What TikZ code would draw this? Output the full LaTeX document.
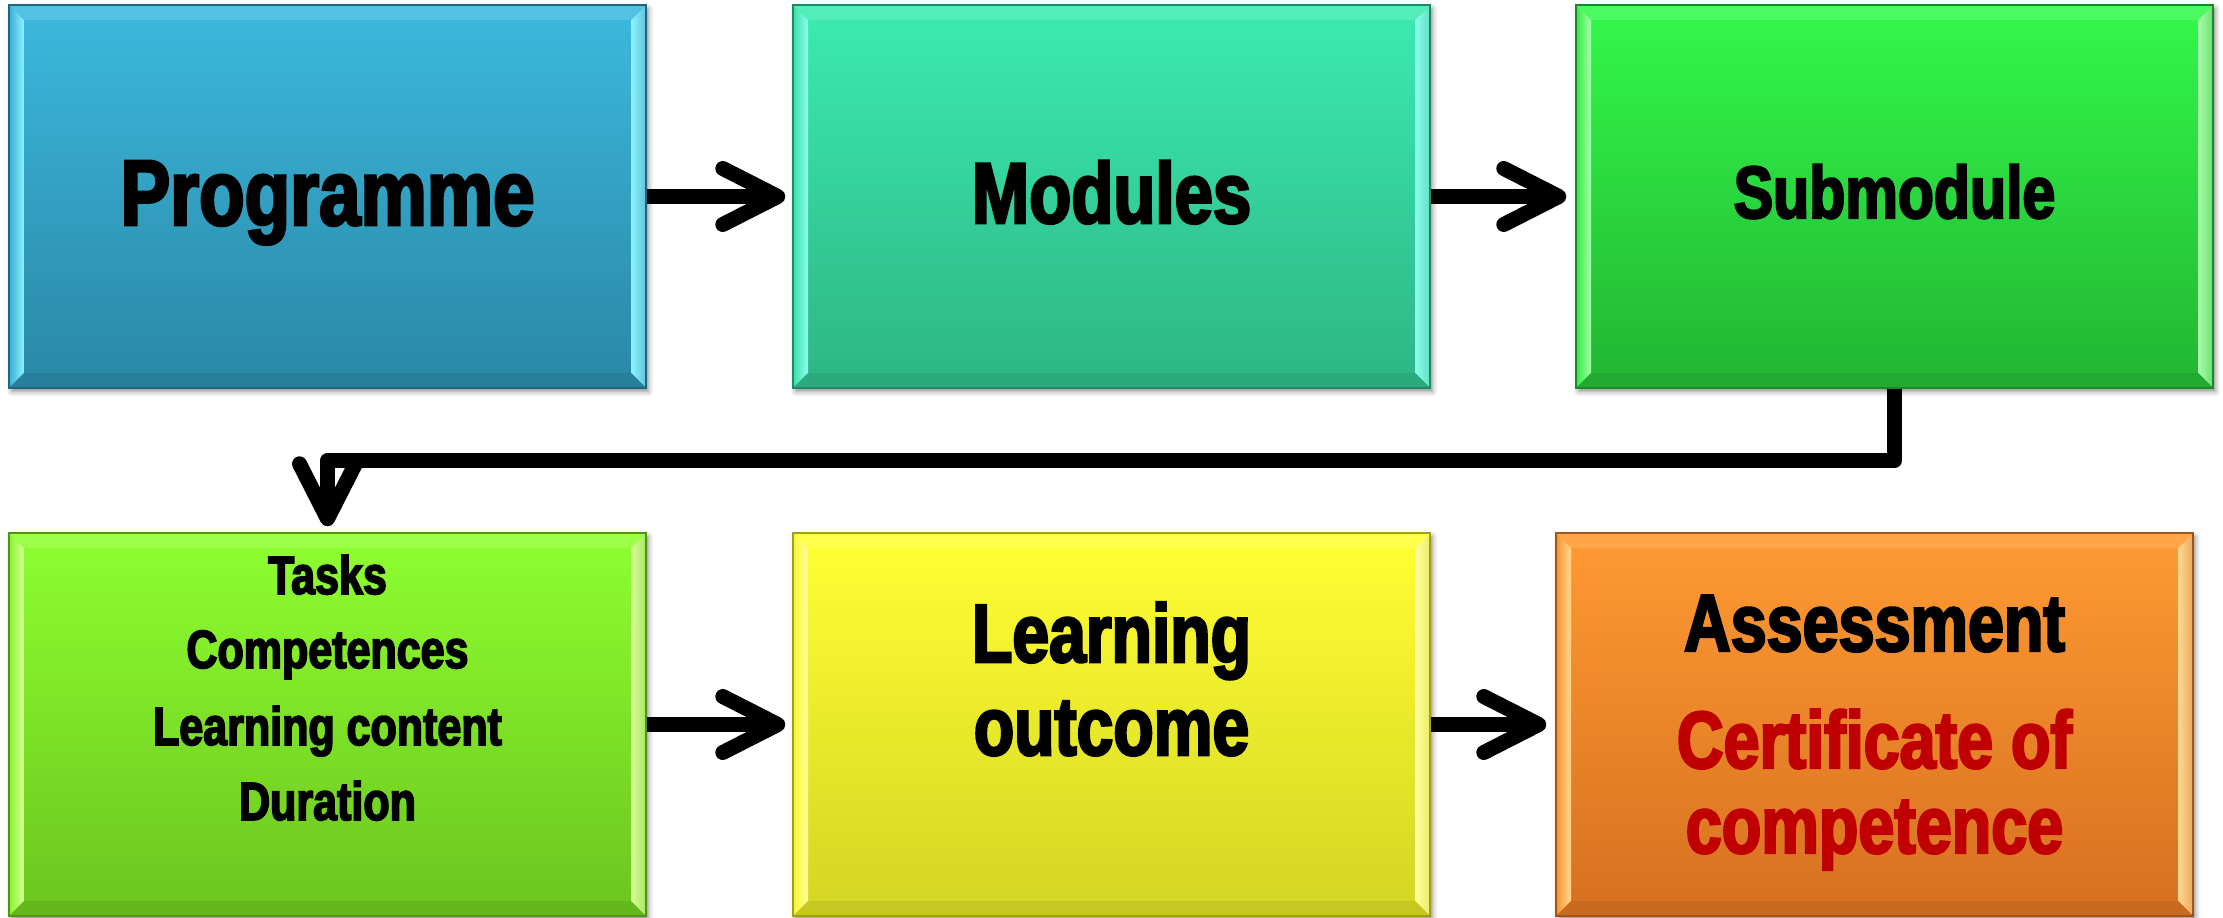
\documentclass[tikz,border=0pt]{standalone}
\usepackage{fontspec}
\newfontfamily\boxfont{Liberation Sans}[FakeStretch=0.8, BoldFeatures={FakeBold=3}]
\usetikzlibrary{arrows.meta, shadows.blur, calc}

% panel colours: top / bottom of the gradient, and the bevel highlight
\definecolor{progTop}{HTML}{3CB9DE}\definecolor{progBot}{HTML}{2A87A5}\definecolor{progHi}{HTML}{8CF4FF}
\definecolor{modTop}{HTML}{3CEBB0}\definecolor{modBot}{HTML}{2DB585}\definecolor{modHi}{HTML}{8CFFF0}
\definecolor{subTop}{HTML}{33F84A}\definecolor{subBot}{HTML}{22B532}\definecolor{subHi}{HTML}{A8FFA8}
\definecolor{taskTop}{HTML}{8EFF30}\definecolor{taskBot}{HTML}{6CC41E}\definecolor{taskHi}{HTML}{D8FF98}
\definecolor{loTop}{HTML}{FFFF33}\definecolor{loBot}{HTML}{D4D424}\definecolor{loHi}{HTML}{FFFFA0}
\definecolor{asTop}{HTML}{FF9A33}\definecolor{asBot}{HTML}{D67020}\definecolor{asHi}{HTML}{FFD890}
\definecolor{certRed}{HTML}{C00000}

\newcommand\boxsize[1]{\fontsize{#1}{#1}\selectfont}

\tikzset{
  panel/.style n args={3}{
    rectangle, inner sep=0pt,
    minimum width=6.37cm, minimum height=3.83cm,
    top color=#1, bottom color=#2,
    draw=#2!75!black, line width=0.4pt,
    blur shadow={shadow xshift=0.025cm, shadow yshift=-0.035cm,
                 shadow blur radius=0.05cm, shadow opacity=45},
    path picture={
      \path (path picture bounding box.south west) coordinate (bl)
            (path picture bounding box.north east) coordinate (tr);
      \def\bv{0.15cm}
      % bevel: left, right, top, bottom strips
      \shade[left color=#1!80!#2, right color=#3]
        (bl) -- (bl|-tr) -- ($(bl|-tr)+(\bv,-\bv)$) -- ($(bl)+(\bv,\bv)$) -- cycle;
      \shade[left color=#3, right color=#3!55!#2]
        (tr) -- (tr|-bl) -- ($(tr|-bl)+(-\bv,\bv)$) -- ($(tr)+(-\bv,-\bv)$) -- cycle;
      \fill[#1!88!white]
        (bl|-tr) -- (tr) -- ($(tr)+(-\bv,-\bv)$) -- ($(bl|-tr)+(\bv,-\bv)$) -- cycle;
      \fill[#2!94!black]
        (bl) -- (tr|-bl) -- ($(tr|-bl)+(-\bv,\bv)$) -- ($(bl)+(\bv,\bv)$) -- cycle;
    }
  },
  lbl/.style={anchor=base, inner sep=0pt, text=black},
  flow/.style={line width=0.15cm, line join=round,
    -{Straight Barb[length=0.55cm, width=0.56cm, round]}},
}

\begin{document}
\begin{tikzpicture}
\useasboundingbox (0,0) rectangle (22.23,9.17);

% top row
\node[panel={progTop}{progBot}{progHi}] (prog) at (3.275,7.205) {};
\node[panel={modTop}{modBot}{modHi}]    (mod)  at (11.115,7.205) {};
\node[panel={subTop}{subBot}{subHi}]    (sub)  at (18.945,7.205) {};

% bottom row
\node[panel={taskTop}{taskBot}{taskHi}] (tasks)  at (3.275,1.925) {};
\node[panel={loTop}{loBot}{loHi}]       (lo)     at (11.115,1.925) {};
\node[panel={asTop}{asBot}{asHi}]       (assess) at (18.745,1.925) {};

% labels
\node[lbl, font=\boxfont\bfseries\boxsize{26.5}] (prog-t) at (3.275,6.92) {Programme};
\node[lbl, font=\boxfont\bfseries\boxsize{24.5}] (mod-t)  at (11.115,6.94) {Modules};
\node[lbl, font=\boxfont\bfseries\boxsize{21}] (sub-t) at (18.945,6.99) {Submodule};

\node[lbl, font=\boxfont\bfseries\boxsize{15.3}] (tasks-t1) at (3.275,3.23) {Tasks};
\node[lbl, font=\boxfont\bfseries\boxsize{15.3}] (tasks-t2) at (3.275,2.49) {Competences};
\node[lbl, font=\boxfont\bfseries\boxsize{15.3}] (tasks-t3) at (3.275,1.72) {Learning content};
\node[lbl, font=\boxfont\bfseries\boxsize{15.3}] (tasks-t4) at (3.275,0.97) {Duration};

\node[lbl, font=\boxfont\bfseries\boxsize{23.5}] (lo-t1) at (11.115,2.55) {Learning};
\node[lbl, font=\boxfont\bfseries\boxsize{23.5}] (lo-t2) at (11.115,1.62) {outcome};

\node[lbl, font=\boxfont\bfseries\boxsize{23}] (as-t1) at (18.745,2.66) {Assessment};
\node[lbl, font=\boxfont\bfseries\boxsize{23}, text=certRed] (as-t2) at (18.745,1.49) {Certificate of};
\node[lbl, font=\boxfont\bfseries\boxsize{23}, text=certRed] (as-t3) at (18.745,0.64) {competence};

% connectors
\draw[flow, shorten >=0.07cm] (prog) -- (mod);
\draw[flow, shorten >=0.09cm] (mod) -- (sub);
\draw[flow, shorten >=0.06cm] (sub.south) -- ++(0,-0.72) -| (tasks.north);
\draw[flow, shorten >=0.07cm] (tasks) -- (lo);
\draw[flow, shorten >=0.09cm] (lo) -- (assess);
\end{tikzpicture}
\end{document}
